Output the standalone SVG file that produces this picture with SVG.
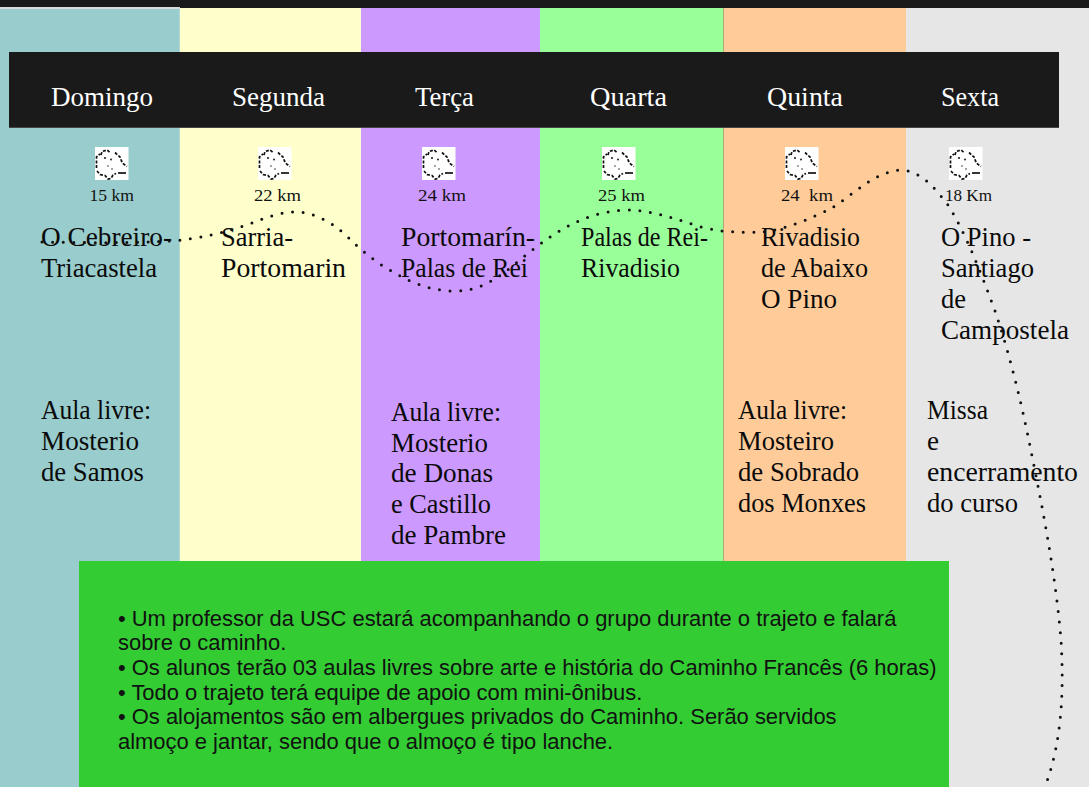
<svg xmlns="http://www.w3.org/2000/svg" width="1089" height="787" viewBox="0 0 1089 787">
<style>
text{font-family:"Liberation Serif","Times New Roman",serif;fill:#000}
.h{font-size:27px;fill:#fff}
.km{font-size:17.4px;fill:#111}
.t{font-size:27px;fill:#0a0a0a}
.b{font-family:"Liberation Sans",Arial,sans-serif;font-size:21.950px;fill:#111}
.o{fill:none;stroke:#111;stroke-width:1.700;stroke-linecap:butt}
.d{fill:#222}
#route{fill:none;stroke:#111;stroke-width:3;stroke-linecap:round;stroke-dasharray:0 10.6}
</style>
<defs>
<g id="map">
<rect width="33.500" height="33" fill="#fff"/>
<path class="o" stroke-dasharray="3 1.600" d="M1.500 21V10L5 7M6 8L7 4.500L12 3L15 5.500M20 5.500L25 10L26.500 14L28.500 17L32 19.500M2 24L5 27.500L10 28.500L13 32L16 31.500L18 28L21 26.500"/>
<path class="o" d="M23 26H31"/>
<circle class="d" cx="10" cy="11" r="1.100"/><circle class="d" cx="16" cy="12.500" r="1"/><circle class="d" cx="13" cy="19" r=".9" opacity=".6"/><circle class="d" cx="17" cy="22" r=".9" opacity=".6"/>
</g>
</defs>
<rect id="background" width="1089" height="787" fill="#1a1a1a"/>
<g id="columns">
<rect y="7" width="180" height="2" fill="#d8dcdc"/>
<rect y="9" width="180" height="778" fill="#99cccc"/>
<rect x="179.500" y="9" width="1" height="778" fill="#d0e4dc"/>
<rect x="180" y="8" width="181" height="779" fill="#ffffcc"/>
<rect x="361" y="8" width="179" height="779" fill="#cc99ff"/>
<rect x="540" y="8" width="183.500" height="779" fill="#99ff99"/>
<rect x="723.500" y="8" width="182.500" height="779" fill="#ffcc99"/>
<rect x="906" y="8" width="183" height="779" fill="#e6e6e6"/>
</g>
<g id="header">
<rect x="9" y="52" width="1050" height="76" fill="#1a1a1a"/>
<rect x="9" y="127" width="1050" height="1" fill="#444"/>
</g>
<g id="domingo">
<text class="h" x="51" y="106" textLength="102" lengthAdjust="spacingAndGlyphs">Domingo</text>
<use href="#map" x="95" y="147"/>
<text class="km" x="89.500" y="201" textLength="44.500" lengthAdjust="spacingAndGlyphs">15 km</text>
<text class="t" x="41" y="246" textLength="131" lengthAdjust="spacingAndGlyphs">O Cebreiro-</text><text class="t" x="41" y="277" textLength="116" lengthAdjust="spacingAndGlyphs">Triacastela</text>
<text class="t" x="41" y="419" textLength="110" lengthAdjust="spacingAndGlyphs">Aula livre:</text><text class="t" x="41" y="450" textLength="98" lengthAdjust="spacingAndGlyphs">Mosterio</text><text class="t" x="41" y="481" textLength="103" lengthAdjust="spacingAndGlyphs">de Samos</text>
</g>
<g id="segunda">
<text class="h" x="232" y="106" textLength="93" lengthAdjust="spacingAndGlyphs">Segunda</text>
<use href="#map" x="258" y="147"/>
<text class="km" x="254" y="201" textLength="47" lengthAdjust="spacingAndGlyphs">22 km</text>
<text class="t" x="221" y="246" textLength="72" lengthAdjust="spacingAndGlyphs">Sarria-</text><text class="t" x="221" y="277" textLength="125" lengthAdjust="spacingAndGlyphs">Portomarin</text>
</g>
<g id="terca">
<text class="h" x="415" y="106" textLength="59" lengthAdjust="spacingAndGlyphs">Terça</text>
<use href="#map" x="422" y="147"/>
<text class="km" x="418" y="201" textLength="48" lengthAdjust="spacingAndGlyphs">24 km</text>
<text class="t" x="401" y="246" textLength="134" lengthAdjust="spacingAndGlyphs">Portomarín-</text><text class="t" x="401" y="277" textLength="127" lengthAdjust="spacingAndGlyphs">Palas de Rei</text>
<text class="t" x="391" y="421" textLength="110" lengthAdjust="spacingAndGlyphs">Aula livre:</text><text class="t" x="391" y="452" textLength="97" lengthAdjust="spacingAndGlyphs">Mosterio</text><text class="t" x="391" y="482" textLength="102" lengthAdjust="spacingAndGlyphs">de Donas</text><text class="t" x="391" y="513" textLength="100" lengthAdjust="spacingAndGlyphs">e Castillo</text><text class="t" x="391" y="544" textLength="115" lengthAdjust="spacingAndGlyphs">de Pambre</text>
</g>
<g id="quarta">
<text class="h" x="590" y="106" textLength="77" lengthAdjust="spacingAndGlyphs">Quarta</text>
<use href="#map" x="602" y="147"/>
<text class="km" x="598" y="201" textLength="47" lengthAdjust="spacingAndGlyphs">25 km</text>
<text class="t" x="581" y="246" textLength="127" lengthAdjust="spacingAndGlyphs">Palas de Rei-</text><text class="t" x="581" y="277" textLength="99" lengthAdjust="spacingAndGlyphs">Rivadisio</text>
</g>
<g id="quinta">
<text class="h" x="767" y="106" textLength="76" lengthAdjust="spacingAndGlyphs">Quinta</text>
<use href="#map" x="785" y="147"/>
<text class="km" x="781" y="201" xml:space="preserve" textLength="52" lengthAdjust="spacingAndGlyphs">24  km</text>
<text class="t" x="761" y="246" textLength="99" lengthAdjust="spacingAndGlyphs">Rivadisio</text><text class="t" x="761" y="277" textLength="107" lengthAdjust="spacingAndGlyphs">de Abaixo</text><text class="t" x="761" y="308" textLength="76" lengthAdjust="spacingAndGlyphs">O Pino</text>
<text class="t" x="738" y="419" textLength="109" lengthAdjust="spacingAndGlyphs">Aula livre:</text><text class="t" x="738" y="450" textLength="96" lengthAdjust="spacingAndGlyphs">Mosteiro</text><text class="t" x="738" y="481" textLength="121" lengthAdjust="spacingAndGlyphs">de Sobrado</text><text class="t" x="738" y="512" textLength="128" lengthAdjust="spacingAndGlyphs">dos Monxes</text>
</g>
<g id="sexta">
<text class="h" x="941" y="106" textLength="58" lengthAdjust="spacingAndGlyphs">Sexta</text>
<use href="#map" x="949" y="147"/>
<text class="km" x="945" y="201" textLength="47" lengthAdjust="spacingAndGlyphs">18 Km</text>
<text class="t" x="941" y="246" textLength="90" lengthAdjust="spacingAndGlyphs">O Pino -</text><text class="t" x="941" y="277" textLength="93" lengthAdjust="spacingAndGlyphs">Santiago</text><text class="t" x="941" y="308" textLength="25" lengthAdjust="spacingAndGlyphs">de</text><text class="t" x="941" y="339" textLength="128" lengthAdjust="spacingAndGlyphs">Campostela</text>
<text class="t" x="927" y="419" textLength="61" lengthAdjust="spacingAndGlyphs">Missa</text><text class="t" x="927" y="450" textLength="12" lengthAdjust="spacingAndGlyphs">e</text><text class="t" x="927" y="481" textLength="151" lengthAdjust="spacingAndGlyphs">encerramento</text><text class="t" x="927" y="512" textLength="91" lengthAdjust="spacingAndGlyphs">do curso</text>
</g>
<g id="notes">
<rect x="79" y="561" width="870" height="226" fill="#33cc33"/>
<text class="b" x="118" y="626">• Um professor da USC estará acompanhando o grupo durante o trajeto e falará</text>
<text class="b" x="118" y="650">sobre o caminho.</text>
<text class="b" x="118" y="675">• Os alunos terão 03 aulas livres sobre arte e história do Caminho Francês (6 horas)</text>
<text class="b" x="118" y="700">• Todo o trajeto terá equipe de apoio com mini-ônibus.</text>
<text class="b" x="118" y="724">• Os alojamentos são em albergues privados do Caminho. Serão servidos</text>
<text class="b" x="118" y="749">almoço e jantar, sendo que o almoço é tipo lanche.</text>
</g>
<g id="connectors">
<path id="route" d="M42 242C90 243 140 243 170 241C200 239 225 232 247 225C265 218 280 212 295 212C312 212 328 220 345 234C360 250 378 264 395 273C415 285 435 291 455 291C475 291 490 283 505 272C520 260 535 247 550 237C570 224 592 212 625 210C650 210 670 217 695 225C715 232 740 233 762 232C785 230 812 218 832 208C855 193 875 172 900 170C920 170 935 188 948 205C965 232 980 270 995 311C1010 355 1022 405 1032 456C1045 520 1056 580 1061 640C1064 690 1062 740 1046 784"/>
</g>
</svg>
